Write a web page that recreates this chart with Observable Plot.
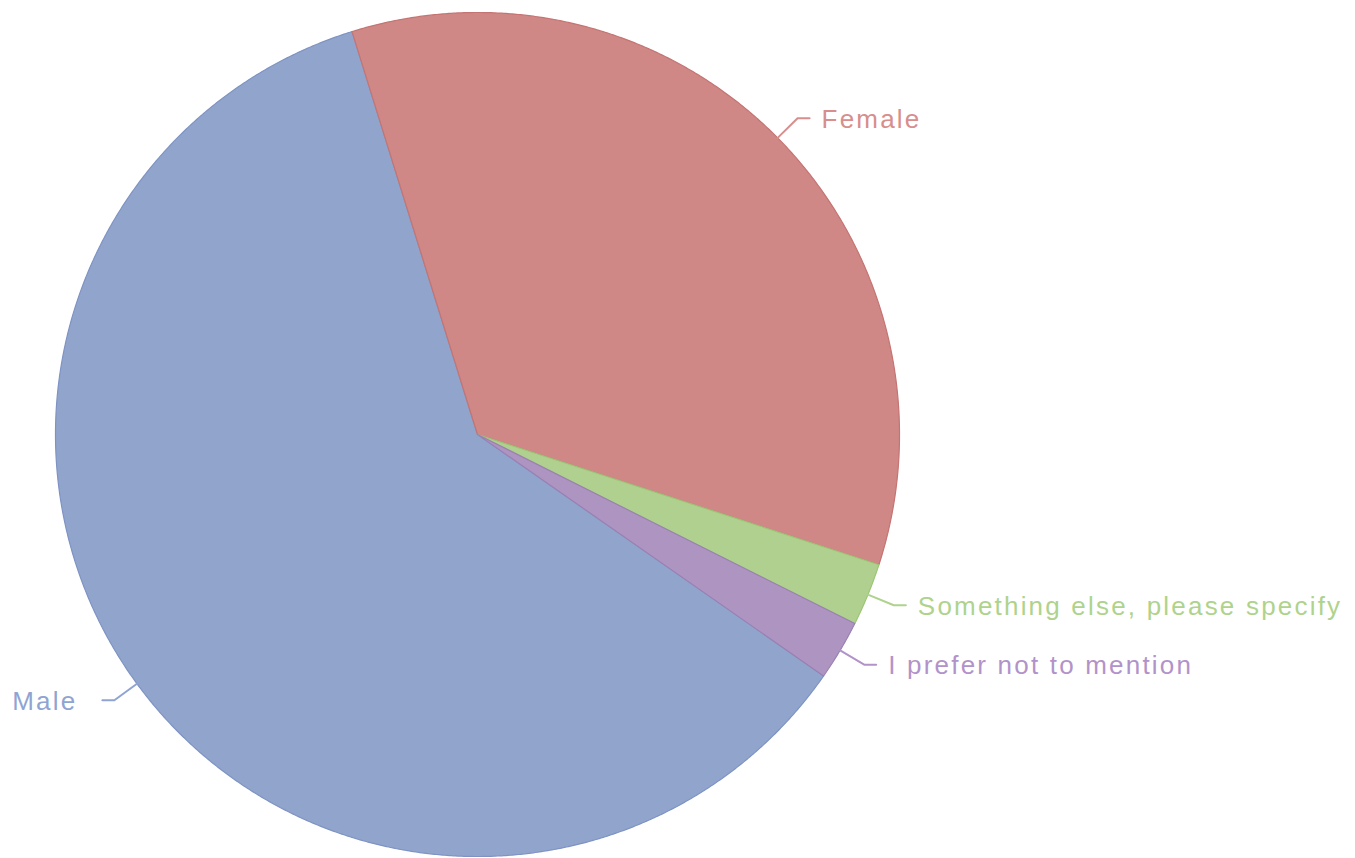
<!DOCTYPE html>
<html>
<head>
<meta charset="utf-8">
<script src="https://cdn.jsdelivr.net/npm/d3@7"></script>
<script src="https://cdn.jsdelivr.net/npm/@observablehq/plot@0.6"></script>
<style>
  html, body { margin: 0; padding: 0; background: #fff; }
  #chart svg { display: block; }
</style>
</head>
<body>
<div id="chart"></div>
<script>
// Data
const categories = ["Male", "Female", "Something else, please specify", "I prefer not to mention"];
const values = [60.5, 34.8, 2.4, 2.3];
const fillColors = ["#91a5cc", "#cf8886", "#b0d08f", "#ae95c1"];
const strokeColors = ["#7e93c3", "#c47472", "#9cc576", "#9b80b3"];
const textColors = ["#8fa4d2", "#d78e8c", "#afd38c", "#b293c9"];

const W = 1355, H = 858;
const cx = 477, cy = 434, Rpx = 422;   // layout of the pie in pixels
const startDeg = 124.9;                 // Male slice starts here (clockwise from 12 o'clock)

const pie = d3.pie().sort(null).value(d => d.value)
  .startAngle(startDeg * Math.PI / 180)
  .endAngle(startDeg * Math.PI / 180 + 2 * Math.PI);
const rows = categories.map((c, i) => ({category: c, value: values[i], i}));
const arcs = pie(rows);

// polygon points in unit-radius data space
const polys = [];
for (const a of arcs) {
  const n = Math.max(4, Math.ceil((a.endAngle - a.startAngle) / 0.005));
  polys.push({k: a.data.category, x: 0, y: 0});
  for (let j = 0; j <= n; j++) {
    const t = a.startAngle + (a.endAngle - a.startAngle) * j / n;
    polys.push({k: a.data.category, x: Math.sin(t), y: Math.cos(t)});
  }
  polys.push({k: a.data.category, x: 0, y: 0});
}

// leader lines and labels
const r2 = 450 / Rpx, hor = 12 / Rpx;
const leaders = [], labels = [];
for (const a of arcs) {
  const m = (a.startAngle + a.endAngle) / 2;
  const sx = Math.sin(m), sy = Math.cos(m);
  const right = sx >= 0;
  const ex = sx * r2, ey = sy * r2;
  const hx = ex + (right ? hor : -hor);
  leaders.push({k: a.data.category, x: sx * 1.0, y: sy * 1.0});
  leaders.push({k: a.data.category, x: ex, y: ey});
  leaders.push({k: a.data.category, x: hx, y: ey});
  labels.push({k: a.data.category, x: hx, y: ey, right});
}

const strokeOf = k => strokeColors[categories.indexOf(k)];
const textOf = k => textColors[categories.indexOf(k)];

const plot = Plot.plot({
  width: W, height: H,
  margin: 0,
  x: {domain: [-cx / Rpx, (W - cx) / Rpx], range: [0, W], axis: null},
  y: {domain: [-(H - cy) / Rpx, cy / Rpx], range: [H, 0], axis: null},
  style: {fontFamily: "'Liberation Sans', Arial, Helvetica, sans-serif", background: "#fff"},
  marks: [
    ...categories.map(c => Plot.line(polys.filter(d => d.k === c), {
      x: "x", y: "y", fill: fillColors[categories.indexOf(c)],
      stroke: strokeOf(c), strokeWidth: 1.2, strokeLinejoin: "round"
    })),
    ...categories.map(c => Plot.line(leaders.filter(d => d.k === c), {
      x: "x", y: "y", stroke: textOf(c), strokeWidth: 2
    })),
    Plot.text(labels.filter(d => d.right), {
      x: "x", y: "y", text: "k", fill: d => textOf(d.k),
      textAnchor: "start", dx: 12, dy: 1, fontSize: 26
    }),
    Plot.text(labels.filter(d => !d.right), {
      x: "x", y: "y", text: "k", fill: d => textOf(d.k),
      textAnchor: "end", dx: -25, dy: 1, fontSize: 26
    })
  ]
});
plot.querySelectorAll("text").forEach(t => t.setAttribute("letter-spacing", "2.2"));
document.getElementById("chart").appendChild(plot);
</script>
</body>
</html>
